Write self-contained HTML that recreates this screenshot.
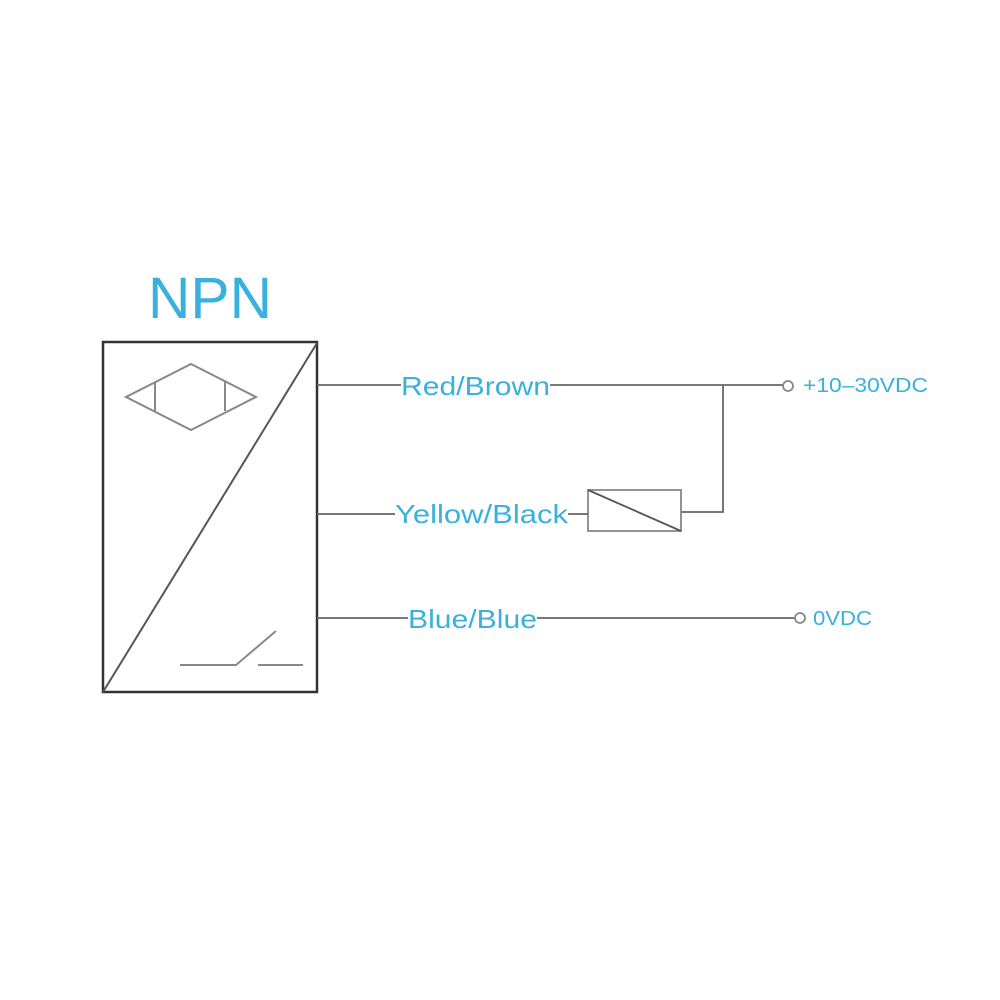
<!DOCTYPE html>
<html><head><style>body{margin:0;background:#fff}svg{display:block}</style></head><body>
<svg width="1000" height="1000" viewBox="0 0 1000 1000" xmlns="http://www.w3.org/2000/svg">
<rect width="1000" height="1000" fill="#fff"/>
<g fill="none" stroke="#555" stroke-width="2">
<rect x="103" y="342" width="214" height="350" stroke="#333" stroke-width="2.5"/>
<line x1="317" y1="343" x2="103" y2="692"/>
</g>
<g fill="none" stroke="#888" stroke-width="2">
<polygon points="126,397 191,364 256,397 191,430"/>
<line x1="155" y1="382" x2="155" y2="411"/>
<line x1="225" y1="381" x2="225" y2="411"/>
<polyline points="180,665 236,665 276,631"/>
<line x1="258" y1="665" x2="303" y2="665"/>
</g>
<g fill="none" stroke="#666" stroke-width="1.8">
<line x1="317" y1="385" x2="401" y2="385"/>
<line x1="550" y1="385" x2="783" y2="385"/>
<circle cx="788" cy="386" r="5" stroke="#888"/>
<polyline points="723,385 723,512 681,512"/>
<rect x="588" y="490" width="93" height="41" stroke="#888"/>
<line x1="588" y1="490" x2="681" y2="531" stroke="#555"/>
<line x1="317" y1="514" x2="395" y2="514"/>
<line x1="568" y1="514" x2="588" y2="514"/>
<line x1="317" y1="618" x2="408" y2="618"/>
<line x1="537" y1="618" x2="795" y2="618"/>
<circle cx="800" cy="618" r="5" stroke="#888"/>
</g>
<g fill="#3ab0dd" font-family="Liberation Sans, sans-serif">
<text x="148" y="318" font-size="58" textLength="124" lengthAdjust="spacingAndGlyphs">NPN</text>
<text x="401" y="395" font-size="26" textLength="149" lengthAdjust="spacingAndGlyphs">Red/Brown</text>
<text x="395" y="523" font-size="26" textLength="173" lengthAdjust="spacingAndGlyphs">Yellow/Black</text>
<text x="408" y="628" font-size="26" textLength="129" lengthAdjust="spacingAndGlyphs">Blue/Blue</text>
<text x="803" y="392" font-size="20" textLength="125" lengthAdjust="spacingAndGlyphs">+10–30VDC</text>
<text x="813" y="625" font-size="20" textLength="59" lengthAdjust="spacingAndGlyphs">0VDC</text>
</g>
</svg>
</body></html>
